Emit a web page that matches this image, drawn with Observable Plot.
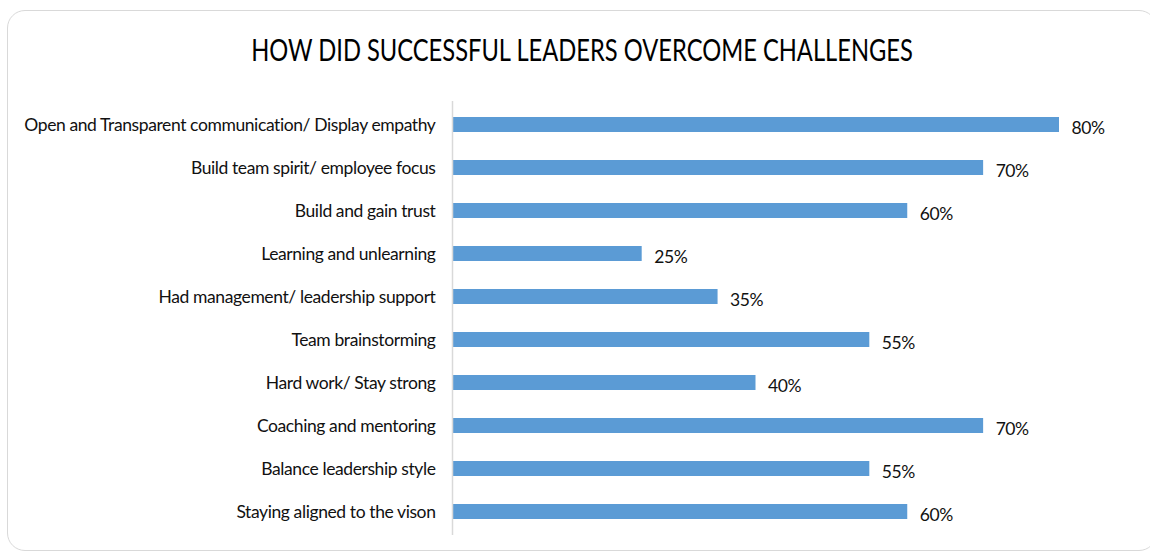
<!DOCTYPE html>
<html>
<head>
<meta charset="utf-8">
<script src="https://cdn.jsdelivr.net/npm/d3@7"></script>
<script src="https://cdn.jsdelivr.net/npm/@observablehq/plot@0.6"></script>
<style>
  html, body { margin: 0; padding: 0; background: #fff; }
  #wrap { position: relative; width: 1150px; height: 556px; overflow: hidden; font-family: Lato, "Open Sans", sans-serif; }
  #frame { position: absolute; left: 7px; top: 10px; width: 1150px; height: 541px; border: 1.5px solid #d9d9d9; border-radius: 18px; box-sizing: border-box; }
  #title { position: absolute; left: 0; top: 0; width: 1164px; height: 90px; line-height: 98px; text-align: center; font-size: 30px; color: #000; transform: scaleX(0.79); transform-origin: 582px 50%; }
  #chart { position: absolute; left: 0; top: 90px; }
  #chart svg text { letter-spacing: -0.4px; }
</style>
</head>
<body>
<div id="wrap">
  <div id="frame"></div>
  <div id="title">HOW DID SUCCESSFUL LEADERS OVERCOME CHALLENGES</div>
  <div id="chart"></div>
</div>
<script>
const categories = [
  "Open and Transparent communication/ Display empathy",
  "Build team spirit/ employee focus",
  "Build and gain trust",
  "Learning and unlearning",
  "Had management/ leadership support",
  "Team brainstorming",
  "Hard work/ Stay strong",
  "Coaching and mentoring",
  "Balance leadership style",
  "Staying aligned to the vison"
];
const values = [80, 70, 60, 25, 35, 55, 40, 70, 55, 60];

const data = categories.map((c, i) => ({ category: c, value: values[i] }));

const chart = Plot.plot({
  width: 1150,
  height: 466,
  marginLeft: 452,
  marginRight: 91,
  marginTop: 11,
  marginBottom: 21,
  style: { fontFamily: "Lato, 'Open Sans', sans-serif", color: "#111", background: "transparent" },
  x: { domain: [0, 80], axis: null },
  y: { domain: categories, paddingInner: 0.65, paddingOuter: 0.325, label: null },
  marks: [
    Plot.barX(data, { x: "value", y: "category", fill: "#5b9bd5" }),
    Plot.ruleX([0], { stroke: "#d9d9d9", strokeWidth: 1.5 }),
    Plot.text(data, { x: "value", y: "category", text: d => d.value + "%", textAnchor: "start", dx: 12, dy: 3, fontSize: 17.5, fill: "#111" }),
    Plot.axisY({ tickSize: 0, tickPadding: 17, fontSize: 17.5, label: null })
  ]
});
document.getElementById("chart").appendChild(chart);
</script>
</body>
</html>
